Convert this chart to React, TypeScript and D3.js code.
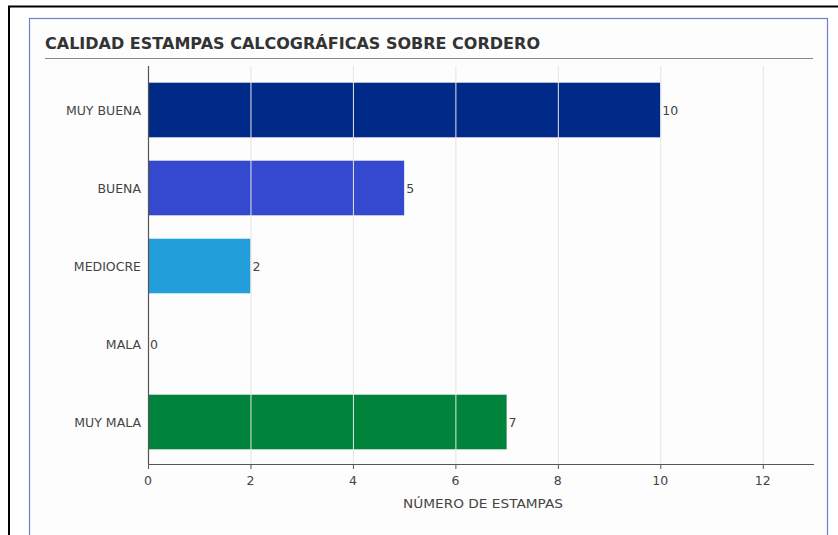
import React from "react";
import * as d3 from "d3";

const categories = ["MUY BUENA", "BUENA", "MEDIOCRE", "MALA", "MUY MALA"];
const values = [10, 5, 2, 0, 7];
const colors = ["#002a87", "#3449cd", "#229fda", "#1a3fb0", "#00843b"];
const xTicks = [0, 2, 4, 6, 8, 10, 12];
const title = "CALIDAD ESTAMPAS CALCOGRÁFICAS SOBRE CORDERO";
const xTitle = "NÚMERO DE ESTAMPAS";

export default function App() {
  const W = 838, H = 535;
  const left = 148, right = 814, top = 66, bottom = 464;
  const x = d3.scaleLinear().domain([0, 13]).range([left, right]);
  const y = d3.scaleBand<string>().domain(categories).range([71, 461]).paddingInner(0.3).paddingOuter(0.15);
  const font = "Tahoma, 'DejaVu Sans', Verdana, sans-serif";
  return (
    <svg width={W} height={H} style={{ position: "absolute", left: 0, top: 0, background: "#fff" }} fontFamily={font}>
      <rect x={0} y={0} width={W} height={H} fill="#fff" />
      {/* outer black frame */}
      <line x1={9} y1={6} x2={9} y2={H} stroke="#000" strokeWidth={2} />
      <line x1={8} y1={6.5} x2={W} y2={6.5} stroke="#000" strokeWidth={2} />
      {/* blue panel (bottom edge runs past the picture) */}
      <rect x={29.5} y={18.5} width={798} height={H} fill="#fdfdfd" stroke="#7080d0" strokeWidth={1.2} />
      <text x={45} y={49} fontSize={15} fontWeight={600} fill="#333" textLength={495} lengthAdjust="spacingAndGlyphs">{title}</text>
      <line x1={45} x2={813} y1={58.5} y2={58.5} stroke="#888" strokeWidth={1.2} />
      {/* bars */}
      {categories.map((c, i) => (
        <rect key={c} x={x(0)} y={y(c)!} width={x(values[i]) - x(0)} height={y.bandwidth()} fill={colors[i]} />
      ))}
      {/* grid */}
      {xTicks.filter(t => t > 0).map(t => (
        <line key={t} x1={x(t) + 0.5} x2={x(t) + 0.5} y1={top} y2={bottom} stroke="#e4e4e4" strokeWidth={1} />
      ))}
      {/* value labels */}
      {categories.map((c, i) => (
        <text key={c} x={x(values[i]) + 2} y={y(c)! + y.bandwidth() / 2 + 4.5} fontSize={12.5} fill="#444">{values[i]}</text>
      ))}
      {/* category labels */}
      {categories.map(c => (
        <text key={c} x={141} y={y(c)! + y.bandwidth() / 2 + 4.5} fontSize={12.5} fill="#444" textAnchor="end">{c}</text>
      ))}
      {/* axes */}
      <line x1={left + 0.5} x2={left + 0.5} y1={top} y2={bottom} stroke="#555" strokeWidth={1.2} />
      <line x1={left} x2={right} y1={bottom + 0.5} y2={bottom + 0.5} stroke="#555" strokeWidth={1.2} />
      {xTicks.map(t => (
        <g key={t}>
          <line x1={x(t) + 0.5} x2={x(t) + 0.5} y1={bottom} y2={bottom + 5} stroke="#555" />
          <text x={x(t)} y={485} fontSize={12.5} fill="#444" textAnchor="middle">{t}</text>
        </g>
      ))}
      <text x={483} y={508} fontSize={13} fill="#444" textAnchor="middle" textLength={160} lengthAdjust="spacingAndGlyphs">{xTitle}</text>
    </svg>
  );
}
